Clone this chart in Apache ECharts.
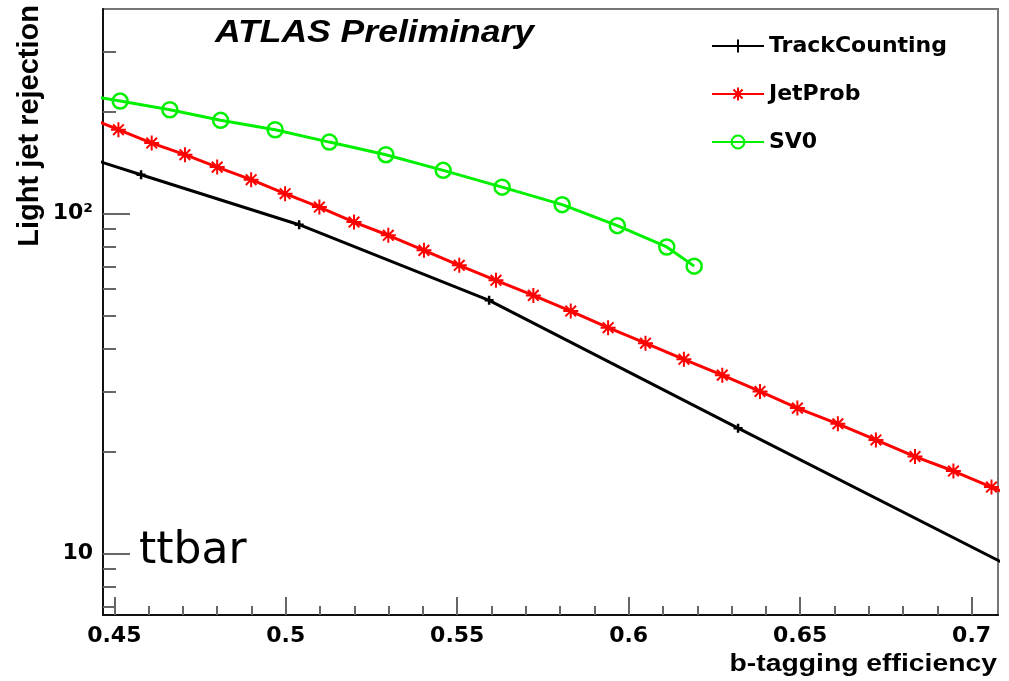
<!DOCTYPE html>
<html>
<head>
<meta charset="utf-8">
<script src="https://cdn.jsdelivr.net/npm/echarts@6/dist/echarts.min.js"></script>
<style>
  html, body { margin: 0; padding: 0; background: #fff; }
  #chart { width: 1009px; height: 681px; }
</style>
</head>
<body>
<div id="chart"></div>
<script>
// light jet rejection vs b-tagging efficiency
// (first/last points lie just outside the frame, the lines run out of it)
var trackEff = [0.4342, 0.4578, 0.5039, 0.5593, 0.6319, 0.7199];
var trackRej = [154.9, 130.2, 92.8, 55.6, 23.4, 8.27];

var jetProbEff = [0.4415, 0.4512, 0.4609, 0.4706, 0.4800, 0.4899, 0.4998, 0.5098, 0.5199, 0.5299,
  0.5403, 0.5506, 0.5613, 0.5722, 0.5831, 0.5940, 0.6049, 0.6161, 0.6273, 0.6383,
  0.6492, 0.6610, 0.6721, 0.6835, 0.6947, 0.7058, 0.7170];
var jetProbRej = [193.3, 176.6, 161.3, 149.1, 137.1, 125.9, 114.5, 104.6, 94.5, 86.4,
  78.0, 70.5, 63.7, 57.5, 51.7, 46.2, 41.6, 37.3, 33.5, 30.0,
  26.8, 24.1, 21.6, 19.3, 17.5, 15.7, 14.06];

var sv0Eff = [0.4371, 0.4517, 0.4662, 0.4810, 0.4969, 0.5127, 0.5292, 0.5459, 0.5631, 0.5806,
  0.5967, 0.6111, 0.6191];
var sv0Rej = [227.2, 214.4, 202.2, 188.2, 176.6, 162.4, 149.1, 134.1, 119.7, 106.3,
  92.2, 79.8, 70.1];

var xMajorTicks = [0.45, 0.5, 0.55, 0.6, 0.65, 0.7];
var xMinorTicks = [0.46, 0.47, 0.48, 0.49, 0.51, 0.52, 0.53, 0.54, 0.56, 0.57, 0.58, 0.59,
  0.61, 0.62, 0.63, 0.64, 0.66, 0.67, 0.68, 0.69];
var yMajorTicks = [10, 100];
var yMinorTicks = [7, 8, 9, 20, 30, 40, 50, 60, 70, 80, 90, 200, 300];

var FONT = "'Liberation Sans', Arial, Helvetica, sans-serif";
// the original picture is stretched sideways, a wide bold face fits the labels better
var WIDE = "'DejaVu Sans', sans-serif";
var STRETCH = 1.18;

function zip(xs, ys) {
  return xs.map(function (x, i) { return [x, ys[i]]; });
}

var chart = echarts.init(document.getElementById('chart'));

var xBase = {
  type: 'value', min: 0.4467, max: 0.7077, position: 'bottom',
  splitLine: { show: false }
};
var yBase = {
  type: 'log', logBase: 10, min: 6.6, max: 400, position: 'left',
  splitLine: { show: false }
};

var option = {
  animation: false,
  backgroundColor: '#fff',
  grid: {
    left: 103, top: 9, width: 895, height: 606,
    show: true, borderColor: '#777', borderWidth: 2, backgroundColor: 'transparent'
  },
  xAxis: [
    Object.assign({}, xBase, {
      axisLine: { show: true, lineStyle: { color: '#111', width: 2 } },
      axisTick: { show: true, inside: true, length: 18, customValues: xMajorTicks,
        lineStyle: { color: '#666', width: 2 } },
      axisLabel: { show: true, customValues: xMajorTicks, margin: 10,
        fontFamily: WIDE, fontWeight: 'bold', fontSize: 22, color: '#000',
        formatter: function (v) { return String(+(+v).toFixed(2)); } }
    }),
    Object.assign({}, xBase, {
      axisLine: { show: false },
      axisTick: { show: true, inside: true, length: 9, customValues: xMinorTicks,
        lineStyle: { color: '#666', width: 2 } },
      axisLabel: { show: false }
    })
  ],
  yAxis: [
    Object.assign({}, yBase, {
      axisLine: { show: true, lineStyle: { color: '#111', width: 2 } },
      axisTick: { show: true, inside: true, length: 27, customValues: yMajorTicks,
        lineStyle: { color: '#666', width: 2 } },
      axisLabel: { show: true, customValues: yMajorTicks, margin: 10,
        fontFamily: WIDE, fontWeight: 'bold', fontSize: 22, color: '#000',
        formatter: function (v) { return +v === 100 ? '10\u00b2' : String(+v); } }
    }),
    Object.assign({}, yBase, {
      axisLine: { show: false },
      axisTick: { show: true, inside: true, length: 13, customValues: yMinorTicks,
        lineStyle: { color: '#666', width: 2 } },
      axisLabel: { show: false }
    })
  ],
  legend: {
    orient: 'vertical', left: 706, top: 30,
    itemWidth: 52, itemHeight: 16, itemGap: 26,
    selectedMode: false,
    textStyle: { fontFamily: WIDE, fontWeight: 'bold', fontSize: 22, color: '#000' },
    data: ['TrackCounting', 'JetProb', 'SV0']
  },
  graphic: [
    { type: 'text', x: 215, y: 33, scaleX: 1.11,
      style: { text: 'ATLAS Preliminary', font: "italic bold 32px " + FONT, fill: '#000',
        align: 'left', verticalAlign: 'middle' } },
    { type: 'text', left: 139, top: 530,
      style: { text: 'ttbar', font: "44px 'DejaVu Sans', sans-serif", fill: '#000' } },
    { type: 'text', x: 997, y: 664, scaleX: STRETCH,
      style: { text: 'b-tagging efficiency', font: "bold 24px " + FONT, fill: '#000',
        align: 'right', verticalAlign: 'middle' } },
    { type: 'text', x: 30, y: 5, rotation: Math.PI / 2,
      style: { text: 'Light jet rejection', font: "bold 29px " + FONT, fill: '#000',
        align: 'right', verticalAlign: 'middle' } }
  ],
  series: [
    {
      name: 'TrackCounting', type: 'line', data: zip(trackEff, trackRej),
      clip: true, symbol: 'path://M0,-1L0,1M-1,0L1,0', symbolSize: 9,
      lineStyle: { color: '#000', width: 3 },
      itemStyle: { color: '#000', borderColor: '#000', borderWidth: 2.5 }
    },
    {
      name: 'JetProb', type: 'line', data: zip(jetProbEff, jetProbRej),
      clip: true,
      symbol: 'path://M0,-1L0,1M-1,0L1,0M-0.71,-0.71L0.71,0.71M-0.71,0.71L0.71,-0.71',
      symbolSize: 15,
      lineStyle: { color: '#ff0000', width: 3 },
      itemStyle: { color: '#ff0000', borderColor: '#ff0000', borderWidth: 2 }
    },
    {
      name: 'SV0', type: 'line', data: zip(sv0Eff, sv0Rej),
      clip: true, symbol: 'circle', symbolSize: 15,
      lineStyle: { color: '#00f000', width: 3 },
      itemStyle: { color: 'rgba(0,0,0,0)', borderColor: '#00f000', borderWidth: 2.5 }
    }
  ]
};

chart.setOption(option);
</script>
</body>
</html>
